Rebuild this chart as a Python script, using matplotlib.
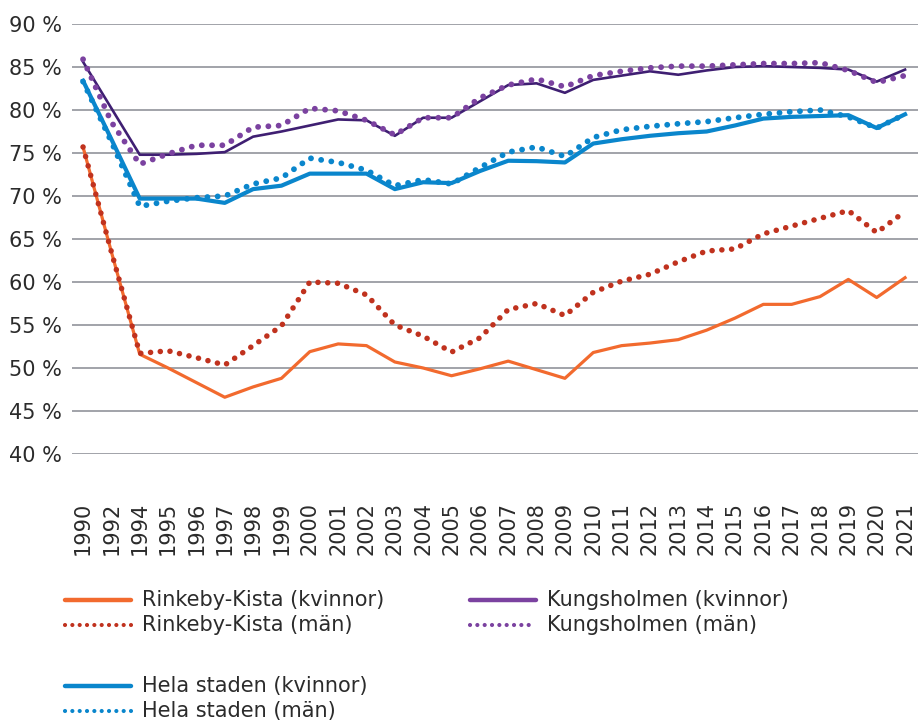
import matplotlib
matplotlib.use("Agg")
import matplotlib.pyplot as plt
from matplotlib.lines import Line2D

years = ['1990', '1992', '1994', '1995', '1996', '1997', '1998', '1999', '2000', '2001',
         '2002', '2003', '2004', '2005', '2006', '2007', '2008', '2009', '2010', '2011',
         '2012', '2013', '2014', '2015', '2016', '2017', '2018', '2019', '2020', '2021']

rk_kvinnor = [75.7, 63.5, 51.6, 50.0, 48.3, 46.6, 47.8, 48.8, 51.9, 52.8, 52.6,
              50.7, 50.0, 49.1, 49.9, 50.8, 49.8, 48.8, 51.8, 52.6, 52.9, 53.3, 54.4,
              55.8, 57.4, 57.4, 58.3, 60.3, 58.2, 60.5]
rk_man = [75.7, 63.5, 51.7, 52.0, 51.2, 50.35, 52.6, 54.9, 60.0, 59.85, 58.5,
          55.0, 53.7, 51.85, 53.5, 56.8, 57.5, 56.1, 58.8, 60.1, 60.9, 62.35, 63.6,
          63.85, 65.6, 66.5, 67.4, 68.3, 65.75, 68.2]
ks_kvinnor = [85.6, 80.2, 74.8, 74.8, 74.9, 75.1, 76.9, 77.5, 78.2, 78.9, 78.8,
              77.0, 79.1, 79.1, 81.0, 82.9, 83.1, 82.0, 83.5, 84.0, 84.5, 84.1, 84.6,
              85.0, 85.1, 85.0, 84.9, 84.7, 83.3, 84.7]
ks_man = [85.9, 78.6, 73.7, 74.9, 75.9, 75.9, 78.0, 78.2, 80.2, 79.9, 78.8,
          77.1, 79.1, 79.1, 81.4, 82.9, 83.6, 82.7, 84.0, 84.5, 84.9, 85.1, 85.1,
          85.25, 85.4, 85.4, 85.5, 84.6, 83.2, 84.0]
hs_kvinnor = [83.4, 76.6, 69.7, 69.7, 69.7, 69.2, 70.8, 71.2, 72.6, 72.6, 72.6,
              70.8, 71.6, 71.5, 72.9, 74.1, 74.05, 73.9, 76.1, 76.6, 77.0, 77.3, 77.5,
              78.2, 79.0, 79.2, 79.3, 79.4, 77.9, 79.5]
hs_man = [83.3, 76.3, 68.8, 69.4, 69.8, 70.0, 71.4, 72.1, 74.4, 73.9, 73.0,
          71.2, 71.9, 71.4, 73.3, 75.1, 75.7, 74.6, 76.8, 77.7, 78.1, 78.4, 78.65,
          79.1, 79.5, 79.8, 80.0, 79.2, 77.9, 79.5]

y_ticks = [40, 45, 50, 55, 60, 65, 70, 75, 80, 85, 90]

labels = ['Rinkeby-Kista (kvinnor)', 'Rinkeby-Kista (män)',
          'Kungsholmen (kvinnor)', 'Kungsholmen (män)',
          'Hela staden (kvinnor)', 'Hela staden (män)']

plt.rcParams['font.family'] = ['DejaVu Sans']
TXT = '#2b2b2b'

W, H = 919, 722
fig = plt.figure(figsize=(W / 100, H / 100), dpi=100)

ax_left, ax_right = 71.7, 917.8
ax_top, ax_bottom = 24, 454
ax = fig.add_axes([ax_left / W, 1 - ax_bottom / H, (ax_right - ax_left) / W, (ax_bottom - ax_top) / H])

x = list(range(len(years)))

C_OR = '#f26a2e'
C_RED = '#c0321e'
C_PURD = '#3f1f72'
C_PUR = '#7b42a0'
C_BLU = '#0a86cc'

dot = (0, (0.01, 1.75))

ax.plot(x, rk_kvinnor, color=C_OR, lw=2.3, zorder=3)
ax.plot(x, rk_man, color=C_RED, lw=4.0, ls=dot, dash_capstyle='round', zorder=4)
ax.plot(x, ks_kvinnor, color=C_PURD, lw=1.9, zorder=3)
ax.plot(x, ks_man, color=C_PUR, lw=4.2, ls=dot, dash_capstyle='round', zorder=4)
ax.plot(x, hs_kvinnor, color=C_BLU, lw=3.0, zorder=3)
ax.plot(x, hs_man, color=C_BLU, lw=4.2, ls=dot, dash_capstyle='round', zorder=4)

ax.set_ylim(40, 90)
ax.set_xlim(-0.4, 29.45)
ax.set_yticks(y_ticks)
ax.set_yticklabels([f'{v} %' for v in y_ticks])
ax.grid(axis='y', color='#9a9ca2', lw=1.3, zorder=0)
ax.set_axisbelow(True)
for s in ax.spines.values():
    s.set_visible(False)

ax.set_xticks(x)
ax.set_xticklabels(years, rotation=90)
ax.tick_params(axis='x', length=0, pad=73, labelsize=15, labelcolor=TXT)
ax.tick_params(axis='y', length=0, pad=7, labelsize=15, labelcolor=TXT)
for lbl in ax.get_xticklabels():
    lbl.set_verticalalignment('bottom')

# Legend (drawn in figure pixel coordinates)
def px(xp, yp):
    return xp / W, 1 - yp / H

entries = [
    (65, 600, C_OR, '-', 3.2, labels[0]),
    (65, 625, C_RED, dot, 3.0, labels[1]),
    (470, 600, C_PUR, '-', 3.2, labels[2]),
    (470, 625, C_PUR, dot, 3.0, labels[3]),
    (65, 686, C_BLU, '-', 3.2, labels[4]),
    (65, 711, C_BLU, dot, 3.0, labels[5]),
]
for xp, yp, c, ls, lw, lab in entries:
    x0, y0 = px(xp, yp)
    x1, _ = px(xp + 66, yp)
    fig.add_artist(Line2D([x0, x1], [y0, y0], color=c, lw=lw, ls=ls,
                          solid_capstyle='round', dash_capstyle='round',
                          transform=fig.transFigure))
    tx, ty = px(xp + 77, yp)
    fig.text(tx, ty, lab, fontsize=15, color=TXT, va='center', ha='left')

fig.savefig('out.png', dpi=100)
